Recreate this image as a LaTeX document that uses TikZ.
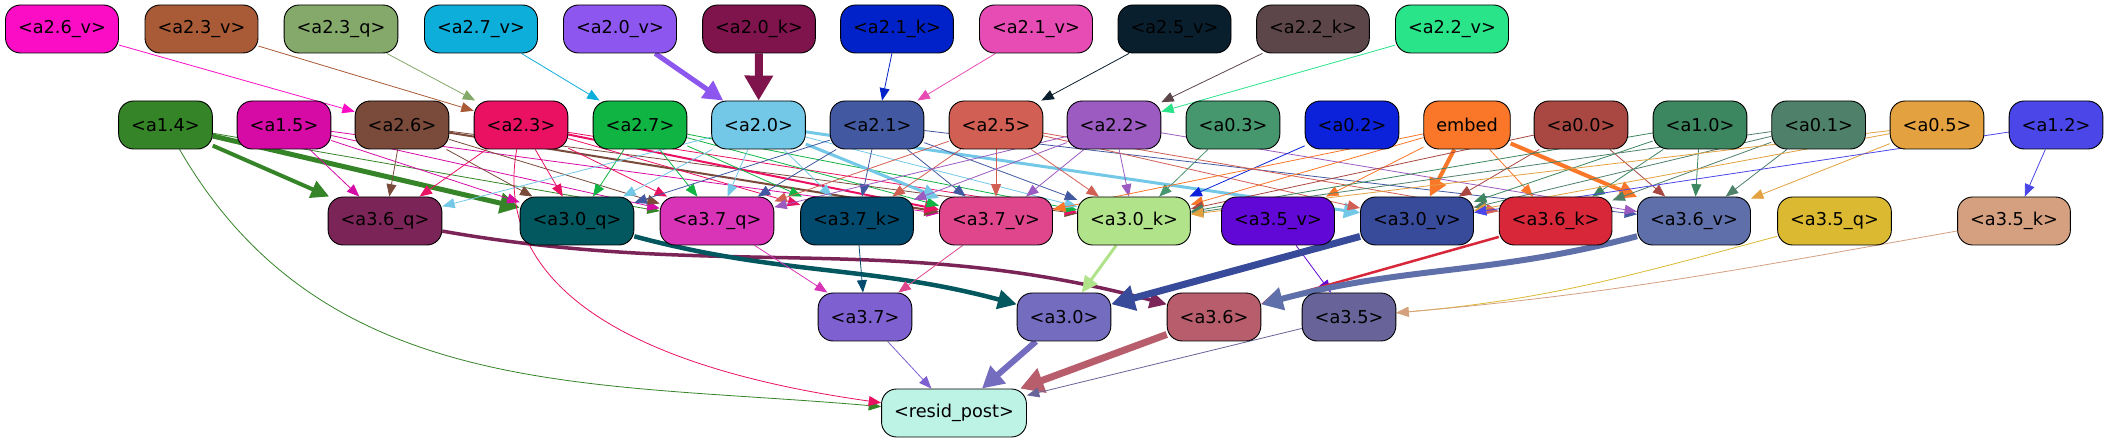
\documentclass[tikz,border=0pt]{standalone}
\usepackage{fontspec}
\setmainfont{DejaVu Sans}
\usetikzlibrary{arrows.meta}
\pgfdeclarelayer{bg}
\pgfsetlayers{bg,main}
\newcommand{\nf}{\fontsize{17.7}{20}\selectfont}
\definecolor{c26v}{HTML}{FB0DC5}
\definecolor{c23v}{HTML}{A95A36}
\definecolor{c23q}{HTML}{84A96A}
\definecolor{c27v}{HTML}{0EAEDB}
\definecolor{c20v}{HTML}{8D56EE}
\definecolor{c20k}{HTML}{7F134C}
\definecolor{c21k}{HTML}{0022C8}
\definecolor{c21v}{HTML}{E64CB4}
\definecolor{c25v}{HTML}{0A1F2E}
\definecolor{c22k}{HTML}{5C464A}
\definecolor{c22v}{HTML}{2AE48A}
\definecolor{c14}{HTML}{358428}
\definecolor{c15}{HTML}{D60BA6}
\definecolor{c26}{HTML}{7A4A3B}
\definecolor{c23}{HTML}{EA1163}
\definecolor{c27}{HTML}{10B443}
\definecolor{c20}{HTML}{73C8E7}
\definecolor{c21}{HTML}{4258A0}
\definecolor{c25}{HTML}{D15F53}
\definecolor{c22}{HTML}{9C5BC0}
\definecolor{c03}{HTML}{46966E}
\definecolor{c02}{HTML}{0B22DA}
\definecolor{cem}{HTML}{FA7629}
\definecolor{c00}{HTML}{A94842}
\definecolor{c10}{HTML}{3C8660}
\definecolor{c01}{HTML}{4E806A}
\definecolor{c05}{HTML}{E3A140}
\definecolor{c12}{HTML}{4A46E8}
\definecolor{c36q}{HTML}{7B2457}
\definecolor{c30q}{HTML}{03575F}
\definecolor{c37q}{HTML}{D933B8}
\definecolor{c37k}{HTML}{024B6E}
\definecolor{c37v}{HTML}{E0468C}
\definecolor{c30k}{HTML}{B1E38A}
\definecolor{c35v}{HTML}{6208D6}
\definecolor{c30v}{HTML}{384A9A}
\definecolor{c36k}{HTML}{D72739}
\definecolor{c36v}{HTML}{5F6FAA}
\definecolor{c35q}{HTML}{DBBA32}
\definecolor{c35k}{HTML}{D5A080}
\definecolor{c37}{HTML}{7F60D1}
\definecolor{c30}{HTML}{746CBF}
\definecolor{c36}{HTML}{B75D6C}
\definecolor{c35}{HTML}{686499}
\definecolor{cres}{HTML}{BDF3E5}
\tikzset{
  box/.style={draw=black, line width=0.9pt, rounded corners=15pt, minimum height=48pt,
    inner xsep=12.5pt, inner ysep=0pt, font=\nf, text=black, fill=#1},
  ed/.style={draw=#1, line width=0.8pt, -{Triangle[length=11pt 1.75, width=8pt 2.4]}},
}
\begin{document}
\begin{tikzpicture}[x=1pt,y=1pt]
\useasboundingbox (0,0) rectangle (2109,-443);
% row 1
\node[box=c26v] (a26v) at (62,-29) {<a2.6\_v>};
\node[box=c23v] (a23v) at (201.5,-29) {<a2.3\_v>};
\node[box=c23q] (a23q) at (341,-29) {<a2.3\_q>};
\node[box=c27v] (a27v) at (481,-29) {<a2.7\_v>};
\node[box=c20v] (a20v) at (620,-29) {<a2.0\_v>};
\node[box=c20k] (a20k) at (759,-29) {<a2.0\_k>};
\node[box=c21k] (a21k) at (897,-29) {<a2.1\_k>};
\node[box=c21v] (a21v) at (1036,-29) {<a2.1\_v>};
\node[box=c25v] (a25v) at (1174.5,-29) {<a2.5\_v>};
\node[box=c22k] (a22k) at (1313,-29) {<a2.2\_k>};
\node[box=c22v] (a22v) at (1452,-29) {<a2.2\_v>};
% row 2
\node[box=c14] (a14) at (165.5,-125) {<a1.4>};
\node[box=c15] (a15) at (284,-125) {<a1.5>};
\node[box=c26] (a26) at (402,-125) {<a2.6>};
\node[box=c23] (a23) at (521,-125) {<a2.3>};
\node[box=c27] (a27) at (640,-125) {<a2.7>};
\node[box=c20] (a20) at (758.5,-125) {<a2.0>};
\node[box=c21] (a21) at (877,-125) {<a2.1>};
\node[box=c25] (a25) at (996,-125) {<a2.5>};
\node[box=c22] (a22) at (1114,-125) {<a2.2>};
\node[box=c03] (a03) at (1233,-125) {<a0.3>};
\node[box=c02] (a02) at (1352,-125) {<a0.2>};
\node[box=cem] (emb) at (1467,-125) {embed};
\node[box=c00] (a00) at (1581,-125) {<a0.0>};
\node[box=c10] (a10) at (1700,-125) {<a1.0>};
\node[box=c01] (a01) at (1818.6,-125) {<a0.1>};
\node[box=c05] (a05) at (1937,-125) {<a0.5>};
\node[box=c12] (a12) at (2056,-125) {<a1.2>};
% row 3
\node[box=c36q] (a36q) at (385,-221) {<a3.6\_q>};
\node[box=c30q] (a30q) at (577,-221) {<a3.0\_q>};
\node[box=c37q] (a37q) at (717,-221) {<a3.7\_q>};
\node[box=c37k] (a37k) at (857,-221) {<a3.7\_k>};
\node[box=c37v] (a37v) at (996,-221) {<a3.7\_v>};
\node[box=c30k] (a30k) at (1134,-221) {<a3.0\_k>};
\node[box=c35v] (a35v) at (1278,-221) {<a3.5\_v>};
\node[box=c30v] (a30v) at (1417,-221) {<a3.0\_v>};
\node[box=c36k] (a36k) at (1555.6,-221) {<a3.6\_k>};
\node[box=c36v] (a36v) at (1694,-221) {<a3.6\_v>};
\node[box=c35q] (a35q) at (1834.5,-221) {<a3.5\_q>};
\node[box=c35k] (a35k) at (2014,-221) {<a3.5\_k>};
% row 4
\node[box=c37] (a37) at (865,-317) {<a3.7>};
\node[box=c30] (a30) at (1064,-317) {<a3.0>};
\node[box=c36] (a36) at (1214,-317) {<a3.6>};
\node[box=c35] (a35) at (1349,-317) {<a3.5>};
% row 5
\node[box=cres] (res) at (954,-413) {<resid\_post>};

\begin{pgfonlayer}{bg}
\fill[white] (0,0) rectangle (2109,-443);
% row1 -> row2
\draw[ed=c26v] (a26v) -- (a26);
\draw[ed=c23v] (a23v) -- (a23);
\draw[ed=c23q] (a23q) -- (a23);
\draw[ed=c27v] (a27v) -- (a27);
\draw[ed=c20v, line width=5pt] (a20v) -- (a20);
\draw[ed=c20k, line width=8pt] (a20k) -- (a20);
\draw[ed=c21k] (a21k) -- (a21);
\draw[ed=c21v] (a21v) -- (a21);
\draw[ed=c25v] (a25v) -- (a25);
\draw[ed=c22k] (a22k) -- (a22);
\draw[ed=c22v] (a22v) -- (a22);
% row2 -> row3
\draw[ed=c14, line width=4pt] (a14) -- (a36q);
\draw[ed=c14, line width=5pt] (a14) -- (a30q);
\draw[ed=c14] (a14) -- (a37q);
\draw[ed=c15] (a15) -- (a36q);
\draw[ed=c15] (a15) -- (a30q);
\draw[ed=c15] (a15) -- (a37q);
\draw[ed=c15] (a15) -- (a37v);
\draw[ed=c26] (a26) -- (a36q);
\draw[ed=c26] (a26) -- (a30q);
\draw[ed=c26] (a26) -- (a37q);
\draw[ed=c26, line width=2pt] (a26) -- (a37v);
\draw[ed=c26] (a26) -- (a30k);
\draw[ed=c23] (a23) -- (a36q);
\draw[ed=c23] (a23) -- (a30q);
\draw[ed=c23] (a23) -- (a37q);
\draw[ed=c23] (a23) -- (a37k);
\draw[ed=c23, line width=2pt] (a23) -- (a37v);
\draw[ed=c23] (a23) -- (a30k);
\draw[ed=c27] (a27) -- (a30q);
\draw[ed=c27] (a27) -- (a37q);
\draw[ed=c27] (a27) -- (a37k);
\draw[ed=c27] (a27) -- (a37v);
\draw[ed=c27] (a27) -- (a30k);
\draw[ed=c20] (a20) -- (a36q);
\draw[ed=c20] (a20) -- (a30q);
\draw[ed=c20] (a20) -- (a37q);
\draw[ed=c20] (a20) -- (a37k);
\draw[ed=c20, line width=3pt] (a20) -- (a37v);
\draw[ed=c20] (a20) -- (a30k);
\draw[ed=c20, line width=3pt] (a20) -- (a30v);
\draw[ed=c21] (a21) -- (a30q);
\draw[ed=c21] (a21) -- (a37q);
\draw[ed=c21] (a21) -- (a37k);
\draw[ed=c21] (a21) -- (a37v);
\draw[ed=c21] (a21) -- (a30k);
\draw[ed=c21] (a21) -- (a36v);
\draw[ed=c25] (a25) -- (a37q);
\draw[ed=c25] (a25) -- (a37k);
\draw[ed=c25] (a25) -- (a37v);
\draw[ed=c25] (a25) -- (a30k);
\draw[ed=c25] (a25) -- (a30v);
\draw[ed=c25] (a25) -- (a36k);
\draw[ed=c22] (a22) -- (a37q);
\draw[ed=c22] (a22) -- (a37k);
\draw[ed=c22] (a22) -- (a37v);
\draw[ed=c22] (a22) -- (a30k);
\draw[ed=c22] (a22) -- (a36v);
\draw[ed=c03] (a03) -- (a30k);
\draw[ed=c02] (a02) -- (a30k);
\draw[ed=cem] (emb) -- (a37v);
\draw[ed=cem] (emb) -- (a30k);
\draw[ed=cem] (emb) -- (a35v);
\draw[ed=cem, line width=4pt] (emb) -- (a30v);
\draw[ed=cem] (emb) -- (a36k);
\draw[ed=cem, line width=4pt] (emb) -- (a36v);
\draw[ed=c00] (a00) -- (a30k);
\draw[ed=c00] (a00) -- (a30v);
\draw[ed=c00] (a00) -- (a36v);
\draw[ed=c10] (a10) -- (a30k);
\draw[ed=c10] (a10) -- (a30v);
\draw[ed=c10] (a10) -- (a36k);
\draw[ed=c10] (a10) -- (a36v);
\draw[ed=c01] (a01) -- (a30k);
\draw[ed=c01] (a01) -- (a30v);
\draw[ed=c01] (a01) -- (a36k);
\draw[ed=c01] (a01) -- (a36v);
\draw[ed=c05] (a05) -- (a30k);
\draw[ed=c05] (a05) -- (a30v);
\draw[ed=c05] (a05) -- (a36v);
\draw[ed=c12] (a12) -- (a30v);
\draw[ed=c12] (a12) -- (a35k);
% row3 -> row4
\draw[ed=c36q, line width=3.5pt] (a36q) to[out=-10, in=165] (a36);
\draw[ed=c30q, line width=4.5pt] (a30q) to[out=-15, in=165] (a30);
\draw[ed=c37q] (a37q) -- (a37);
\draw[ed=c37k] (a37k) -- (a37);
\draw[ed=c37v] (a37v) -- (a37);
\draw[ed=c30k, line width=3pt] (a30k) -- (a30);
\draw[ed=c35v] (a35v) -- (a35);
\draw[ed=c30v, line width=7pt] (a30v) -- (a30);
\draw[ed=c36k, line width=2.5pt] (a36k) -- (a36);
\draw[ed=c36v, line width=6pt] (a36v) to[out=195, in=15] (a36);
\draw[ed=c35q] (a35q) to[out=195, in=5] (a35);
\draw[ed=c35k] (a35k) to[out=190, in=5] (a35);
% row4 -> resid
\draw[ed=c37] (a37) -- (res);
\draw[ed=c30, line width=6pt] (a30) -- (res);
\draw[ed=c36, line width=7pt] (a36) -- (res);
\draw[ed=c35] (a35) -- (res);
\draw[ed=c14] (a14) to[out=-60, in=175] (res);
\draw[ed=c23] (a23) to[out=-100, in=172] (res);
\end{pgfonlayer}
\end{tikzpicture}
\end{document}
